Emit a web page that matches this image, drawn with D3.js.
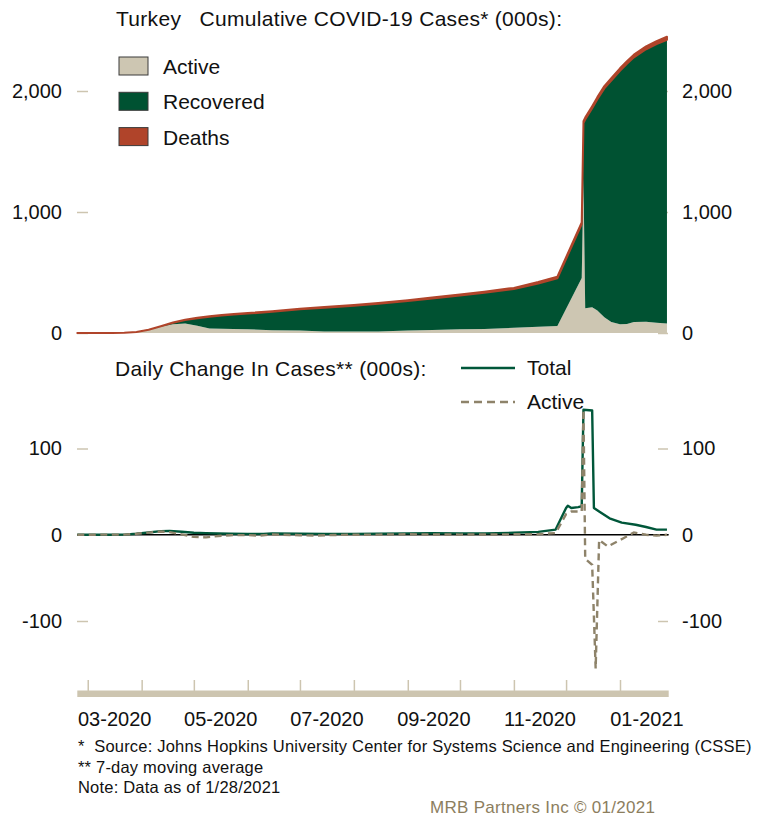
<!DOCTYPE html>
<meta charset="utf-8">
<head>
    <title>Turkey COVID-19 cases</title>
    <script src="https://d3js.org/d3.v7.min.js"></script>
    <style>
    body { margin: 0; background: #fff; }
    text { font-family: "Liberation Sans", Arial, sans-serif; fill: #111; }
    .axis text { font-size: 20px; }
    .axis line { stroke: #cdc5b0; stroke-width: 1.5px; }
    .axis .domain { display: none; }
    .head { font-size: 21px; letter-spacing: 0.3px; white-space: pre; }
    .note { font-size: 16.5px; letter-spacing: 0.2px; white-space: pre; }
    </style>
</head>
<body>
<script>

// ---- data (thousands of cases) ----
// cumulative cases, top panel
var cumDates = ["2020-02-24","2020-03-15","2020-03-22","2020-03-29","2020-04-05","2020-04-12",
  "2020-04-19","2020-04-26","2020-05-03","2020-05-10","2020-05-17","2020-05-24","2020-06-01",
  "2020-06-15","2020-07-01","2020-07-15","2020-08-01","2020-08-15","2020-09-01","2020-09-15",
  "2020-10-01","2020-10-15","2020-11-01","2020-11-15","2020-11-26","2020-12-10","2020-12-11",
  "2020-12-12","2020-12-16","2020-12-19","2020-12-23","2020-12-27","2021-01-01","2021-01-05",
  "2021-01-09","2021-01-16","2021-01-22","2021-01-28"];
var activeCum = [0, 0.05, 1.2, 9.0, 25.5, 52.3, 72.3, 78.3, 59.6, 38.0, 35.9, 33.5, 31.0,
  22.6, 20.9, 12.6, 12.2, 12.2, 20.3, 25.8, 30.5, 33.5, 42.7, 51.7, 57.1, 455, 1276,
  205, 212, 186, 130, 90, 72, 75, 90, 92, 85, 78];
var recoveredCum = [0, 0, 0.01, 0.1, 1.0, 3.4, 12.0, 29.0, 63.0, 96.9, 109.4, 119.0, 129.2,
  152.4, 175.0, 196.0, 213.0, 230.0, 245.0, 260.0, 280.0, 299.0, 320.0, 358.0, 395.0, 444.5, 458.3,
  1559, 1646, 1746, 1892, 1996, 2095, 2149, 2188, 2253, 2302, 2345];
var deathsCum = [0, 0.001, 0.03, 0.13, 0.57, 1.2, 2.0, 2.8, 3.4, 3.8, 4.1, 4.3, 4.6,
  4.8, 5.2, 5.4, 5.7, 5.9, 6.4, 7.1, 8.2, 9.1, 10.3, 11.7, 12.9, 15.5, 15.7,
  15.9, 16.6, 17.1, 18.1, 19.1, 20.4, 21.3, 22.2, 23.5, 24.6, 25.6];

// daily change, 7-day moving average, bottom panel
var totalDates = ["2020-02-24","2020-03-15","2020-03-22","2020-03-29","2020-04-05","2020-04-12",
  "2020-04-17","2020-04-24","2020-05-01","2020-05-08","2020-05-15","2020-05-22","2020-06-01",
  "2020-06-10","2020-06-15","2020-07-01","2020-07-15","2020-08-01","2020-08-15","2020-09-01",
  "2020-09-15","2020-10-01","2020-10-15","2020-11-01","2020-11-15","2020-11-25","2020-12-01",
  "2020-12-02","2020-12-04","2020-12-08","2020-12-10","2020-12-11","2020-12-16","2020-12-17",
  "2020-12-20","2020-12-26","2021-01-02","2021-01-10","2021-01-16","2021-01-22","2021-01-28"];
var totalDaily = [0, 0.01, 0.2, 1.2, 2.6, 4.2, 4.5, 3.5, 2.3, 1.9, 1.5, 1.1, 0.9,
  1.0, 1.5, 1.2, 1.0, 1.0, 1.2, 1.6, 1.7, 1.6, 1.6, 2.3, 3.3, 6.0, 31,
  33.7, 31, 32, 33, 145, 144, 31, 27, 19, 14, 11.6, 9, 6, 6];

var activeDates = ["2020-02-24","2020-03-22","2020-03-29","2020-04-05","2020-04-12","2020-04-17",
  "2020-04-24","2020-05-01","2020-05-08","2020-05-15","2020-05-22","2020-06-01","2020-06-08",
  "2020-06-15","2020-07-01","2020-07-10","2020-07-20","2020-08-01","2020-08-15","2020-09-01",
  "2020-09-15","2020-10-01","2020-10-15","2020-11-01","2020-11-15","2020-11-25","2020-12-01",
  "2020-12-04","2020-12-10","2020-12-11","2020-12-12","2020-12-16","2020-12-18","2020-12-20",
  "2020-12-25","2021-01-03","2021-01-09","2021-01-16","2021-01-22","2021-01-28"];
var activeDaily = [0, 0.2, 1.1, 2.5, 3.8, 3.0, 0.5, -2.5, -3.0, -1.5, -0.5, -0.4, -1.0,
  0.3, -0.5, -1.0, -0.3, 0, 0.2, 0.6, 0.3, 0.2, 0.3, 0.5, 0.6, 2.0, 24,
  27, 27, 145, -28, -35, -155, -6, -13.6, -4, 2.7, 0, -1, 0];

var monthTicks = ["2020-03-01","2020-04-01","2020-05-01","2020-06-01","2020-07-01","2020-08-01",
  "2020-09-01","2020-10-01","2020-11-01","2020-12-01","2021-01-01"];
var monthLabels = ["03-2020","05-2020","07-2020","09-2020","11-2020","01-2021"];
var labelMonths = ["2020-03-01","2020-05-01","2020-07-01","2020-09-01","2020-11-01","2021-01-01"];

// ---- setup ----
var W = 764, H = 823;
var parseDate = d3.timeParse("%Y-%m-%d");

var x = d3.scaleTime()
    .domain([parseDate("2020-02-24"), parseDate("2021-01-29")])
    .range([77.3, 668.7]);
var yTop = d3.scaleLinear().domain([0, 2000]).range([333, 91]);
var yBot = d3.scaleLinear().domain([-100, 100]).range([621, 448.5]);

var svg = d3.select("body").append("svg")
    .attr("width", W)
    .attr("height", H);

svg.append("rect").attr("width", W).attr("height", H).attr("fill", "#fff");

// ---- y axes (drawn first so the areas cover the hidden ticks) ----
function yAxes(scale, values, fmt) {
  svg.append("g")
      .attr("class", "axis")
      .attr("transform", "translate(88,0)")
      .call(d3.axisLeft(scale).tickValues(values).tickSize(11).tickPadding(15).tickFormat(fmt));
  svg.append("g")
      .attr("class", "axis")
      .attr("transform", "translate(658,0)")
      .call(d3.axisRight(scale).tickValues(values).tickSize(10).tickPadding(14).tickFormat(fmt));
}
yAxes(yTop, [0, 1000, 2000], d3.format(","));
yAxes(yBot, [-100, 0, 100], function(d) { return String(d); });

// ---- top panel: stacked areas ----
var cum = cumDates.map(function(d, i) {
  return {date: parseDate(d), active: activeCum[i], recovered: recoveredCum[i], deaths: deathsCum[i]};
});
var keys = ["active", "recovered", "deaths"];
var colors = {active: "#cdc6b2", recovered: "#005232", deaths: "#b0442a"};
var stacked = d3.stack().keys(keys)(cum);

var area = d3.area()
    .x(function(d) { return x(d.data.date); })
    .y0(function(d) { return yTop(d[0]); })
    .y1(function(d) { return yTop(d[1]); });

svg.selectAll(".layer")
    .data(stacked)
  .enter().append("path")
    .attr("class", "layer")
    .attr("d", area)
    .attr("fill", function(d) { return colors[d.key]; })
    .attr("stroke", function(d) { return d.key === "deaths" ? colors.deaths : "none"; })
    .attr("stroke-width", 2)
    .attr("stroke-linejoin", "round");

// title + legend
svg.append("text")
    .attr("class", "head")
    .attr("x", 116).attr("y", 26)
    .text("Turkey   Cumulative COVID-19 Cases* (000s):");

var legendNames = ["Active", "Recovered", "Deaths"];
var leg = svg.selectAll(".leg")
    .data(keys)
  .enter().append("g")
    .attr("class", "leg")
    .attr("transform", function(d, i) { return "translate(119," + (57 + i * 35.3) + ")"; });
leg.append("rect")
    .attr("width", 29).attr("height", 18)
    .attr("fill", function(d) { return colors[d]; })
    .attr("stroke", "#3a3a3a").attr("stroke-width", 1);
leg.append("text")
    .attr("x", 44).attr("y", 17)
    .style("font-size", "21px")
    .text(function(d, i) { return legendNames[i]; });

// ---- bottom panel: lines ----
svg.append("line")
    .attr("x1", x.range()[0]).attr("x2", x.range()[1])
    .attr("y1", yBot(0)).attr("y2", yBot(0))
    .attr("stroke", "#000").attr("stroke-width", 1.5);

var totalData = totalDates.map(function(d, i) { return {date: parseDate(d), v: totalDaily[i]}; });
var activeData = activeDates.map(function(d, i) { return {date: parseDate(d), v: activeDaily[i]}; });

var line = d3.line()
    .x(function(d) { return x(d.date); })
    .y(function(d) { return yBot(d.v); });

svg.append("path")
    .datum(totalData)
    .attr("d", line)
    .attr("fill", "none")
    .attr("stroke", "#00573a")
    .attr("stroke-width", 2.4)
    .attr("stroke-linejoin", "round");

svg.append("path")
    .datum(activeData)
    .attr("d", line)
    .attr("fill", "none")
    .attr("stroke", "#8e836a")
    .attr("stroke-width", 2.4)
    .attr("stroke-dasharray", "7,4.5");

svg.append("text")
    .attr("class", "head")
    .attr("x", 115).attr("y", 376)
    .text("Daily Change In Cases** (000s):");

// line legend
svg.append("line")
    .attr("x1", 461).attr("x2", 515).attr("y1", 368).attr("y2", 368)
    .attr("stroke", "#00573a").attr("stroke-width", 2.4);
svg.append("text").attr("x", 527).attr("y", 375).style("font-size", "21px").text("Total");
svg.append("line")
    .attr("x1", 461).attr("x2", 515).attr("y1", 402).attr("y2", 402)
    .attr("stroke", "#8e836a").attr("stroke-width", 2.4).attr("stroke-dasharray", "8,5");
svg.append("text").attr("x", 527).attr("y", 409).style("font-size", "21px").text("Active");

// ---- x axis: beige bar with month ticks ----
svg.append("g")
    .attr("class", "axis")
    .attr("transform", "translate(0,691)")
    .call(d3.axisTop(x).tickValues(monthTicks.map(parseDate)).tickSize(11).tickFormat(""));

svg.append("rect")
    .attr("x", x.range()[0]).attr("y", 690.5)
    .attr("width", x.range()[1] - x.range()[0]).attr("height", 6.5)
    .attr("fill", "#cdc5b0");

svg.selectAll(".xlab")
    .data(labelMonths)
  .enter().append("text")
    .attr("class", "xlab")
    .attr("x", function(d) {
      var m0 = parseDate(d);
      return (x(m0) + x(d3.timeMonth.offset(m0, 1))) / 2;
    })
    .attr("y", 726)
    .attr("text-anchor", "middle")
    .style("font-size", "20px")
    .text(function(d, i) { return monthLabels[i]; });

// ---- footnotes ----
var notes = ["*  Source: Johns Hopkins University Center for Systems Science and Engineering (CSSE)",
  "** 7-day moving average",
  "Note: Data as of 1/28/2021"];
svg.selectAll(".note")
    .data(notes)
  .enter().append("text")
    .attr("class", "note")
    .attr("x", 78)
    .attr("y", function(d, i) { return 752 + i * 20.5; })
    .text(function(d) { return d; });

svg.append("text")
    .attr("x", 430).attr("y", 813)
    .style("font-size", "17px")
    .style("letter-spacing", "0.3px")
    .style("fill", "#8c7e5e")
    .text("MRB Partners Inc \u00a9 01/2021");

</script>
</body>
